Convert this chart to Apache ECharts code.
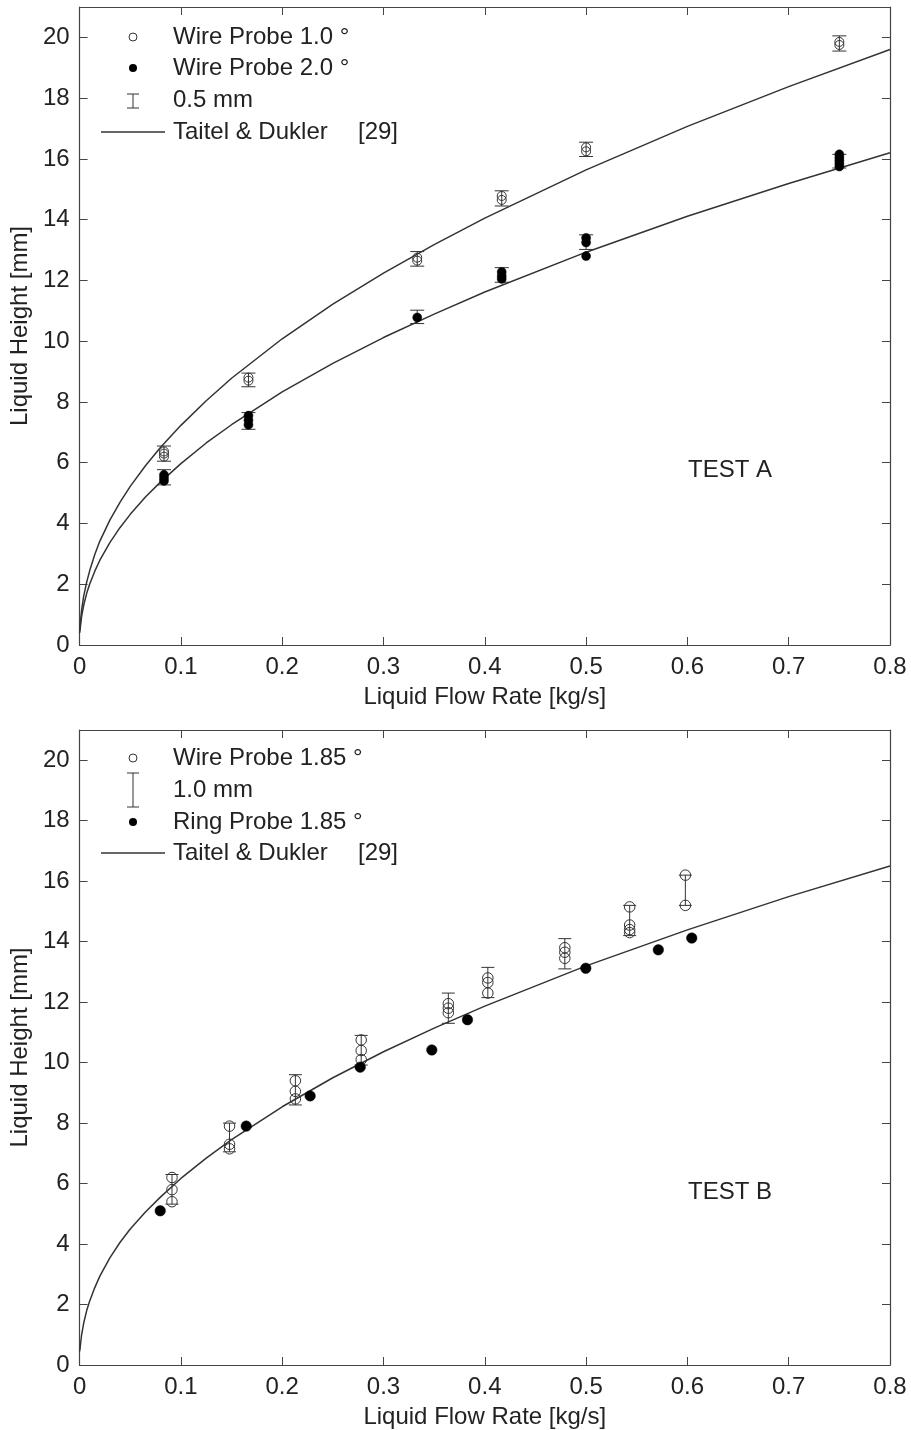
<!DOCTYPE html>
<html>
<head>
<meta charset="utf-8">
<script src="https://cdn.jsdelivr.net/npm/echarts@6/dist/echarts.min.js"></script>
<style>
  html, body { margin: 0; padding: 0; background: #fff; }
  #chart { width: 911px; height: 1430px; }
</style>
</head>
<body>
<div id="chart"></div>
<script>
// ---- TEST A : wire probes at 1.0 and 2.0 degrees ----
const wire10A = [
  [0.0833, 6.2], [0.0833, 6.3], [0.0833, 6.37],
  [0.1667, 8.7], [0.1667, 8.8],
  [0.3333, 12.65], [0.3333, 12.75],
  [0.4167, 14.65], [0.4167, 14.78],
  [0.5, 16.25], [0.5, 16.38],
  [0.75, 19.75], [0.75, 19.85]
];
const wire20A = [
  [0.0833, 5.4], [0.0833, 5.5], [0.0833, 5.6],
  [0.1667, 7.25], [0.1667, 7.4], [0.1667, 7.55],
  [0.3333, 10.78],
  [0.4167, 12.05], [0.4167, 12.15], [0.4167, 12.28],
  [0.5, 12.8], [0.5, 13.25], [0.5, 13.4],
  [0.75, 15.75], [0.75, 15.85], [0.75, 15.95], [0.75, 16.05], [0.75, 16.15]
];
// error bars: [flow, low, high]
const wire10ErrA = [
  [0.0833, 6.05, 6.55], [0.1667, 8.5, 8.95], [0.3333, 12.47, 12.95],
  [0.4167, 14.45, 14.95], [0.5, 16.08, 16.55], [0.75, 19.55, 20.05]
];
const wire20ErrA = [
  [0.0833, 5.27, 5.77], [0.1667, 7.1, 7.65], [0.3333, 10.58, 11.02],
  [0.4167, 11.94, 12.42], [0.5, 13.02, 13.5], [0.75, 15.7, 16.15]
];
// Taitel & Dukler prediction curves
const tdFlow = [0, 0.0005, 0.001, 0.002, 0.004, 0.007, 0.01, 0.015, 0.02, 0.03, 0.04, 0.05,
  0.065, 0.08, 0.1, 0.125, 0.15, 0.2, 0.25, 0.3, 0.35, 0.4, 0.5, 0.6, 0.7, 0.8];
const tdUpperA = [0.5, 0.6, 0.82, 1.15, 1.6, 2.07, 2.45, 2.98, 3.42, 4.12, 4.7, 5.22,
  5.9, 6.51, 7.23, 8.04, 8.78, 10.08, 11.22, 12.24, 13.18, 14.05, 15.64, 17.07, 18.38, 19.6];
const tdLowerA = [0.4, 0.49, 0.67, 0.94, 1.3, 1.7, 2.01, 2.43, 2.79, 3.38, 3.87, 4.3,
  4.87, 5.37, 5.97, 6.65, 7.25, 8.33, 9.27, 10.12, 10.89, 11.62, 12.93, 14.11, 15.19, 16.2];

// ---- TEST B : wire probe and ring probe at 1.85 degrees ----
const wire185B = [
  [0.0912, 6.2], [0.0912, 5.8], [0.0912, 5.4],
  [0.148, 7.9], [0.148, 7.3], [0.148, 7.15],
  [0.213, 9.4], [0.213, 9.05], [0.213, 8.8],
  [0.278, 10.75], [0.278, 10.4], [0.278, 10.1],
  [0.364, 11.95], [0.364, 11.8], [0.364, 11.65],
  [0.403, 12.8], [0.403, 12.65], [0.403, 12.3],
  [0.479, 13.8], [0.479, 13.65], [0.479, 13.45],
  [0.543, 15.15], [0.543, 14.55], [0.543, 14.4], [0.543, 14.3],
  [0.598, 16.2], [0.598, 15.2]
];
const wire185ErrB = [
  [0.0912, 5.32, 6.3], [0.148, 7.05, 8.0], [0.213, 8.6, 9.6], [0.278, 9.92, 10.9],
  [0.364, 11.3, 12.3], [0.403, 12.15, 13.15], [0.479, 13.1, 14.1],
  [0.543, 14.2, 15.2], [0.598, 15.2, 16.2]
];
const ring185B = [
  [0.0796, 5.1], [0.1645, 7.9], [0.2276, 8.9], [0.277, 9.85], [0.3477, 10.42],
  [0.3829, 11.42], [0.4997, 13.12], [0.5713, 13.73], [0.6043, 14.12]
];
const tdB = [0.45, 0.55, 0.72, 1.0, 1.38, 1.8, 2.12, 2.56, 2.94, 3.55, 4.06, 4.5,
  5.06, 5.56, 6.17, 6.84, 7.45, 8.54, 9.5, 10.36, 11.14, 11.87, 13.2, 14.39, 15.49, 16.5];

const pair = (xs, ys) => xs.map((x, i) => [x, ys[i]]);

const FONT = '"Liberation Sans", Arial, Helvetica, sans-serif';
const INK = '#222';
const AXIS = '#444';

const GRID_LEFT = 79, GRID_W = 811, GRID_H = 638;
const grids = [
  { left: GRID_LEFT, top: 7, width: GRID_W, height: GRID_H },
  { left: GRID_LEFT, top: 730, width: GRID_W, height: GRID_H }
];

function xAxes(gridIndex) {
  const base = {
    gridIndex, type: 'value', min: 0, max: 0.8, interval: 0.1,
    splitLine: { show: false },
    axisLine: { show: true, onZero: false, lineStyle: { color: AXIS, width: 1.2 } },
    axisTick: { show: true, inside: true, length: 8, lineStyle: { color: AXIS } }
  };
  return [
    Object.assign({}, base, {
      position: 'bottom',
      name: 'Liquid Flow Rate [kg/s]', nameLocation: 'middle', nameGap: 40,
      nameTextStyle: { fontFamily: FONT, fontSize: 24, color: INK },
      axisLabel: { fontFamily: FONT, fontSize: 24, color: INK, margin: 10 }
    }),
    Object.assign({}, base, { position: 'top', axisLabel: { show: false } })
  ];
}
function yAxes(gridIndex) {
  const base = {
    gridIndex, type: 'value', min: 0, max: 21, interval: 2,
    splitLine: { show: false },
    axisLine: { show: true, onZero: false, lineStyle: { color: AXIS, width: 1.2 } },
    axisTick: { show: true, inside: true, length: 8, lineStyle: { color: AXIS } }
  };
  return [
    Object.assign({}, base, {
      position: 'left',
      name: 'Liquid Height [mm]', nameLocation: 'middle', nameGap: 45,
      nameTextStyle: { fontFamily: FONT, fontSize: 24, color: INK },
      axisLabel: { fontFamily: FONT, fontSize: 24, color: INK, margin: 10, showMaxLabel: false }
    }),
    Object.assign({}, base, { position: 'right', axisLabel: { show: false } })
  ];
}

function errorBars(data, axisIdx, cap) {
  return {
    type: 'custom',
    xAxisIndex: axisIdx, yAxisIndex: axisIdx,
    data: data,
    encode: { x: 0, y: [1, 2] },
    z: 3,
    silent: true,
    renderItem: function (params, api) {
      const x = api.value(0);
      const lo = api.coord([x, api.value(1)]);
      const hi = api.coord([x, api.value(2)]);
      const st = { stroke: '#333', lineWidth: 1 };
      return {
        type: 'group',
        children: [
          { type: 'line', shape: { x1: lo[0], y1: lo[1], x2: hi[0], y2: hi[1] }, style: st },
          { type: 'line', shape: { x1: lo[0] - cap, y1: lo[1], x2: lo[0] + cap, y2: lo[1] }, style: st },
          { type: 'line', shape: { x1: hi[0] - cap, y1: hi[1], x2: hi[0] + cap, y2: hi[1] }, style: st }
        ]
      };
    }
  };
}
function curve(data, axisIdx) {
  return {
    type: 'line', xAxisIndex: axisIdx, yAxisIndex: axisIdx,
    data: data, showSymbol: false, smooth: false, z: 2, silent: true,
    lineStyle: { color: '#333', width: 1.5 }
  };
}
function markers(data, axisIdx, filled, size) {
  return {
    type: 'scatter', xAxisIndex: axisIdx, yAxisIndex: axisIdx,
    data: data, symbol: 'circle', symbolSize: size, z: 4, silent: true,
    itemStyle: filled
      ? { color: '#000', borderColor: '#000', borderWidth: 0.5, opacity: 1 }
      : { color: 'rgba(0,0,0,0)', borderColor: '#333', borderWidth: 1, opacity: 1 }
  };
}

// legend drawn as graphic elements inside each plot box
function txt(text, x, y) {
  return { type: 'text', x: x, y: y,
    style: { text: text, fill: INK, font: '24px ' + FONT, textVerticalAlign: 'middle', verticalAlign: 'middle' } };
}
function dot(x, y, r, filled) {
  return { type: 'circle', shape: { cx: x, cy: y, r: r },
    style: filled ? { fill: '#000' } : { fill: 'none', stroke: '#333', lineWidth: 1 } };
}
function barIcon(x, y1, y2, cap) {
  const st = { stroke: '#333', lineWidth: 1 };
  return [
    { type: 'line', shape: { x1: x, y1: y1, x2: x, y2: y2 }, style: st },
    { type: 'line', shape: { x1: x - cap, y1: y1, x2: x + cap, y2: y1 }, style: st },
    { type: 'line', shape: { x1: x - cap, y1: y2, x2: x + cap, y2: y2 }, style: st }
  ];
}
function lineIcon(y) {
  return { type: 'line', shape: { x1: 101, y1: y, x2: 165, y2: y }, style: { stroke: '#333', lineWidth: 1.5 } };
}

const graphic = [
  // TEST A legend
  dot(133, 37, 4, false), txt('Wire Probe 1.0 °', 173, 37),
  dot(133, 68, 4, true), txt('Wire Probe 2.0 °', 173, 68),
  ...barIcon(133, 94, 108, 6), txt('0.5 mm', 173, 100),
  lineIcon(132), txt('Taitel & Dukler', 173, 132), txt('[29]', 358, 132),
  txt('TEST A', 688, 470),
  // TEST B legend
  dot(133, 758, 4, false), txt('Wire Probe 1.85 °', 173, 758),
  ...barIcon(133, 773, 807, 6), txt('1.0 mm', 173, 790),
  dot(133, 822, 4, true), txt('Ring Probe 1.85 °', 173, 822),
  lineIcon(853), txt('Taitel & Dukler', 173, 853), txt('[29]', 358, 853),
  txt('TEST B', 688, 1192)
];

const chart = echarts.init(document.getElementById('chart'), null, { renderer: 'canvas' });
chart.setOption({
  backgroundColor: '#fff',
  animation: false,
  grid: grids,
  xAxis: [...xAxes(0), ...xAxes(1)],
  yAxis: [...yAxes(0), ...yAxes(1)],
  graphic: graphic,
  series: [
    curve(pair(tdFlow, tdUpperA), 0),
    curve(pair(tdFlow, tdLowerA), 0),
    errorBars(wire10ErrA, 0, 7),
    errorBars(wire20ErrA, 0, 7),
    markers(wire10A, 0, false, 9),
    markers(wire20A, 0, true, 9),
    curve(pair(tdFlow, tdB), 2),
    errorBars(wire185ErrB, 2, 6.5),
    markers(wire185B, 2, false, 10.5),
    markers(ring185B, 2, true, 10.5)
  ]
});
</script>
</body>
</html>
